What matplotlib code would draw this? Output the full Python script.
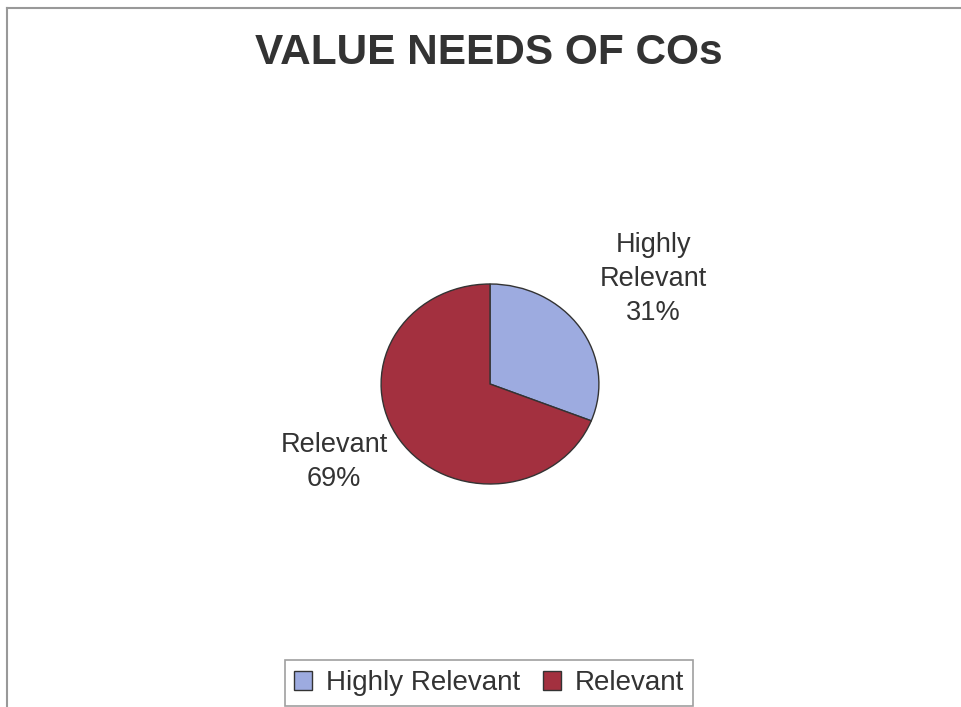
import matplotlib.pyplot as plt
from matplotlib.lines import Line2D

# pie data
labels = ["Highly Relevant", "Relevant"]
values = [31, 69]
colors = ["#9dabe0", "#a3303f"]
# where each slice label sits, in pie radius units
label_xy = [(1.5, 1.05), (-1.43, -0.78)]

plt.rcParams['font.family'] = ['Liberation Sans', 'DejaVu Sans']

fig = plt.figure(figsize=(9.62, 7.07), dpi=100)

# frame lines along top and left
fig.add_artist(Line2D([7/962, 1], [1 - 8/707, 1 - 8/707], color="#999999", lw=1.5))
fig.add_artist(Line2D([7/962, 7/962], [0, 1 - 8/707], color="#999999", lw=1.5))

fig.text(489/962, 1 - 53/707, "VALUE NEEDS OF COs", ha="center", va="center",
         fontsize=30.5, fontweight="bold", color="#333333")

# slightly squashed pie, so the axes is not square
ax = fig.add_axes([380/962, 1 - 485/707, 220/962, 202/707])
wedges, _ = ax.pie(values, colors=colors, startangle=90, counterclock=False,
                   wedgeprops=dict(edgecolor="#333333", linewidth=1))
ax.set_aspect('auto')
ax.set_xlim(-1.01, 1.01)
ax.set_ylim(-1.01, 1.01)

for (x, y), lab, v in zip(label_xy, labels, values):
    txt = lab.replace(" ", "\n") + "\n" + f"{v}%"
    ax.text(x, y, txt, ha="center", va="center",
            fontsize=19.5, color="#333333", linespacing=1.42, clip_on=False)

leg = fig.legend(wedges, labels, loc="center", bbox_to_anchor=(489/962, 1 - 683/707),
                 ncol=2, fontsize=20, frameon=True, fancybox=False,
                 handlelength=0.65, handleheight=0.65, handletextpad=0.5,
                 columnspacing=0.8, borderpad=0.35, borderaxespad=0,
                 labelcolor="#333333")
leg.get_frame().set_edgecolor("#888888")
leg.get_frame().set_linewidth(1.2)

fig.savefig("out.png", dpi=100)
